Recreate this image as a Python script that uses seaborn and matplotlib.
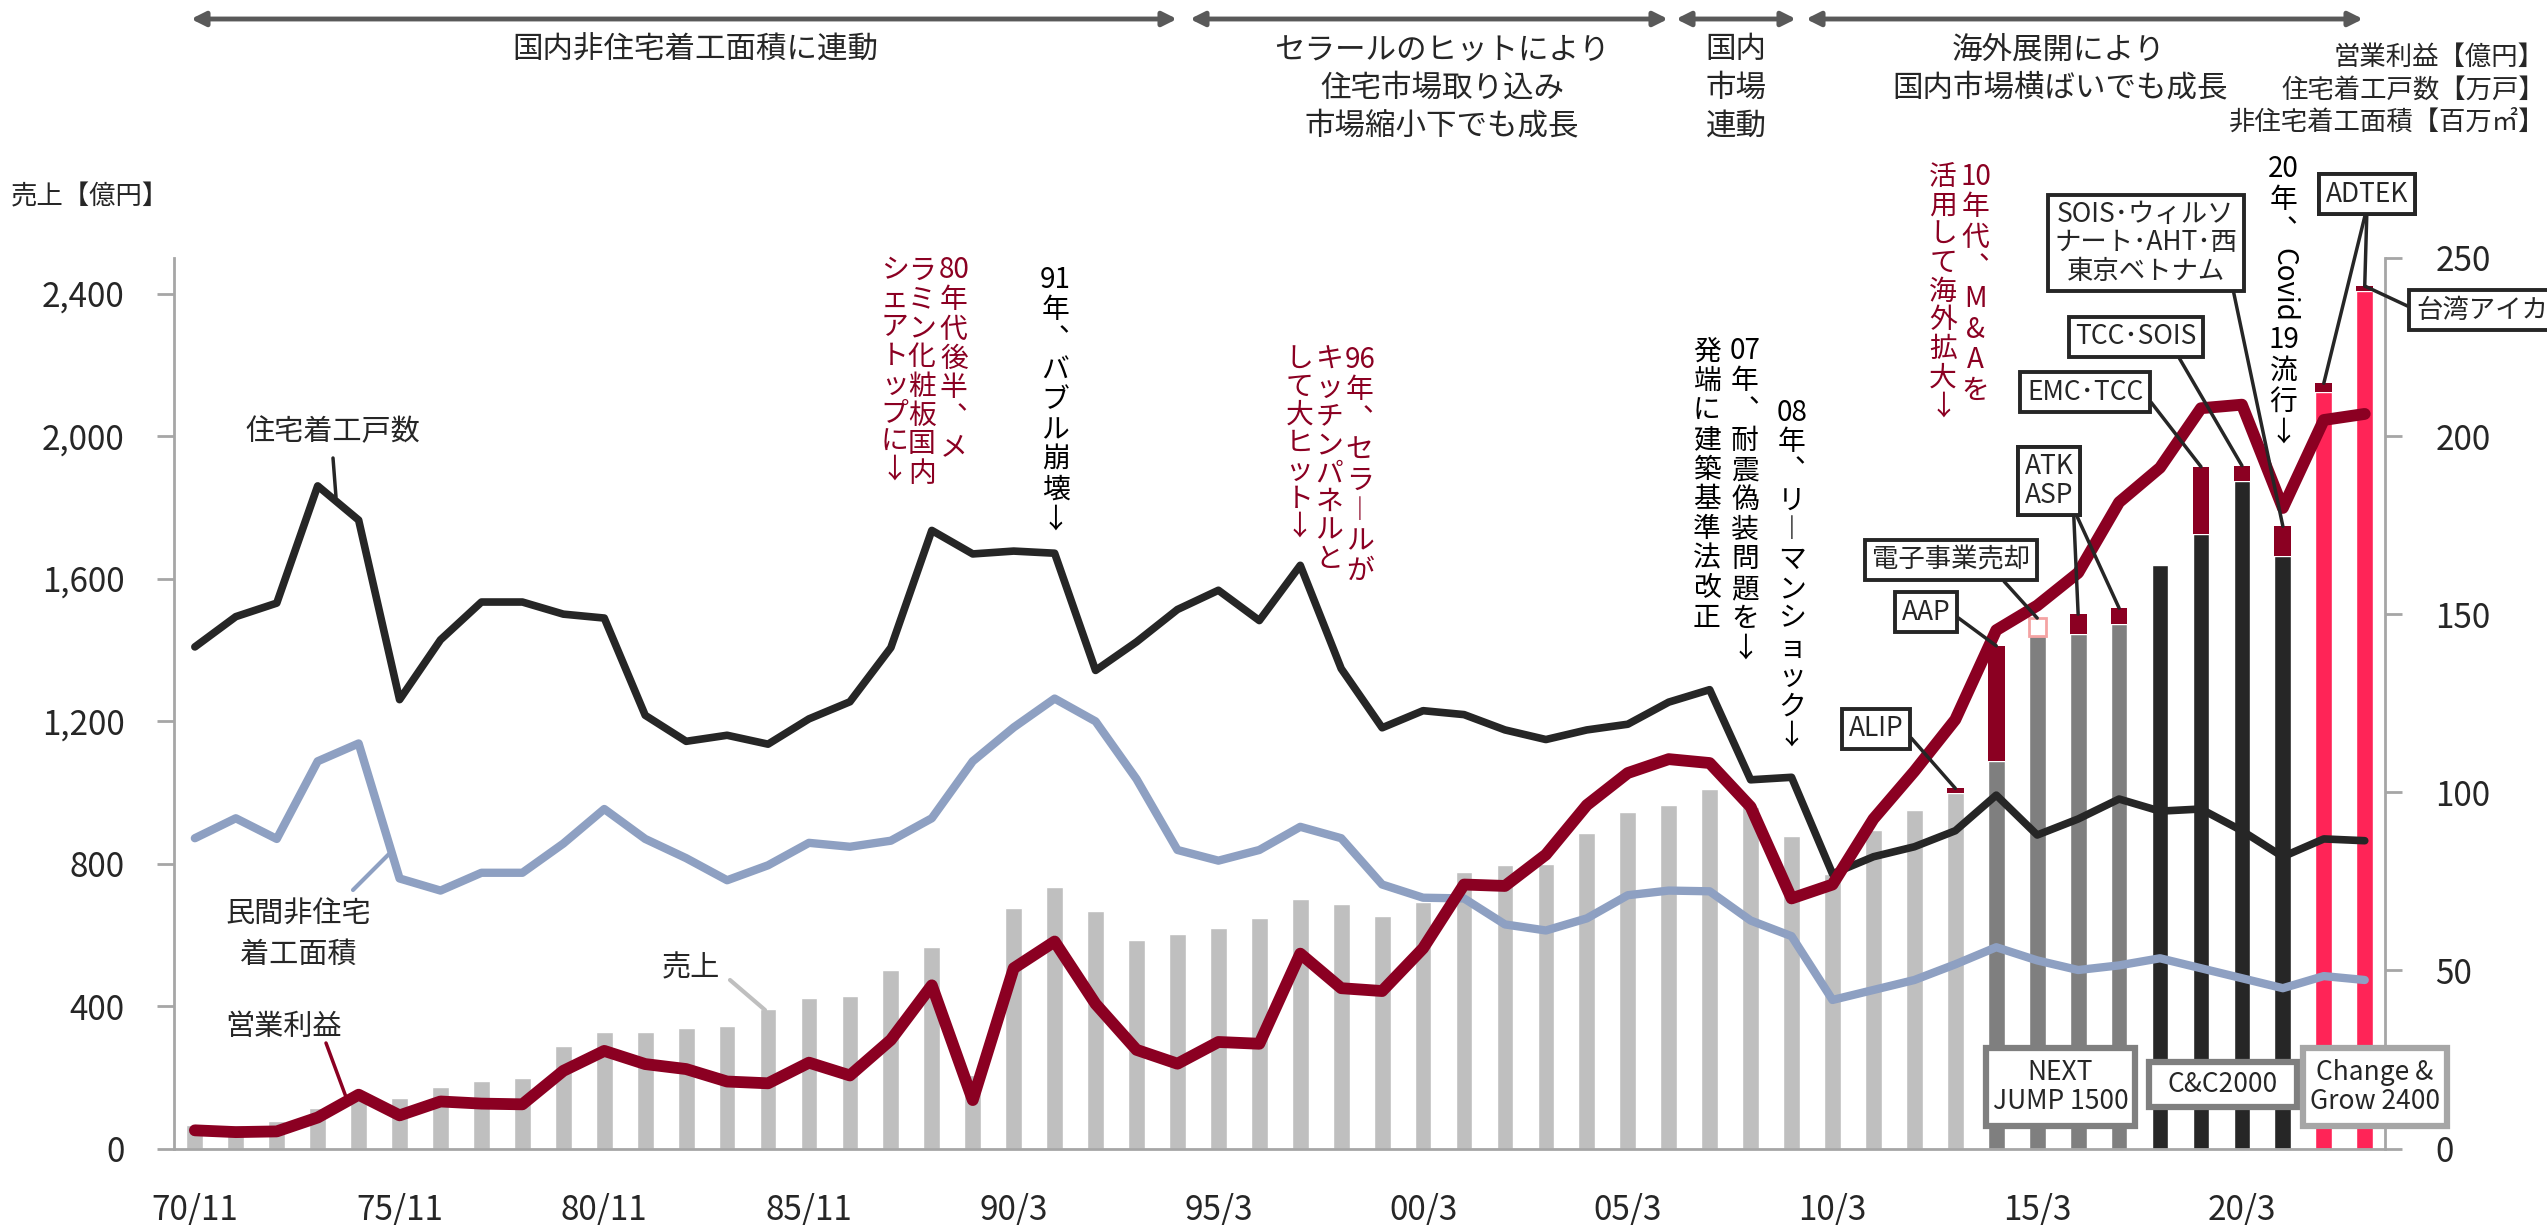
import pandas as pd
import seaborn as sns
import matplotlib.pyplot as plt
from matplotlib.lines import Line2D
from matplotlib.patches import Rectangle
from matplotlib.ticker import FuncFormatter

W, H = 2547, 1225

# x axis: one category per fiscal period, labelled every 5th
tick_labels = ["70/11", "75/11", "80/11", "85/11", "90/3", "95/3",
               "00/3", "05/3", "10/3", "15/3", "20/3"]

# 売上 (億円), base part of each bar
sales = [67, 65, 78, 115, 145, 141, 173, 190, 199, 289,
         328, 328, 339, 345, 391, 422, 429, 500, 567, 206,
         675, 733, 668, 584, 603, 620, 648, 699, 685, 654,
         693, 775, 796, 798, 887, 944, 965, 1008, 959, 877,
         770, 894, 951, 998, 1087, 1439, 1445, 1473, 1637, 1725,
         1874, 1664, 2124, 2408]
# M&A contribution stacked on top (dark red), by period index
acquired = {43: 13, 44: 324, 46: 55, 47: 44, 49: 189, 50: 43, 51: 83, 52: 24, 53: 13}
# divested business (outlined box)
sold = {45: 50}
# mid-term plan of each bar
phase = ["past"] * 44 + ["NEXT JUMP 1500"] * 4 + ["C&C2000"] * 4 + ["Change & Grow 2400"] * 2

# 営業利益 (億円)
op = [5.1, 4.6, 4.8, 8.7, 15.1, 9.3, 13.2, 12.6, 12.4, 21.8,
      27.4, 23.7, 22.3, 18.8, 18.3, 24.1, 20.5, 30.5, 45.8, 13.6,
      50.6, 58.1, 40.6, 27.7, 23.8, 29.9, 29.4, 54.7, 45.0, 44.2,
      56.2, 74.1, 73.7, 82.5, 96.4, 105.4, 109.3, 108.2, 95.9, 70.2,
      74.1, 92.5, 105.9, 120.4, 145.5, 152.4, 161.6, 181.4, 191.1, 207.8,
      208.8, 179.8, 204.5, 206.2]
# 住宅着工戸数 (万戸)
housing = [140.8, 149.3, 153.1, 186.0, 176.4, 126.0, 142.8, 153.4, 153.4, 150.0,
           148.9, 121.6, 114.3, 116.0, 113.5, 120.6, 125.4, 140.6, 173.5, 166.9,
           167.7, 167.1, 134.2, 142.2, 151.3, 156.7, 148.2, 163.7, 134.7, 118.1,
           122.9, 121.8, 117.5, 114.8, 117.5, 119.1, 125.3, 128.8, 103.5, 104.2,
           77.1, 81.9, 84.7, 89.2, 99.2, 88.0, 92.5, 98.1, 94.7, 95.3,
           89.2, 81.9, 86.9, 86.4]
# 民間非住宅着工面積 (百万㎡)
nonres = [87.1, 92.7, 86.9, 108.7, 113.7, 75.8, 72.4, 77.4, 77.4, 85.6,
          95.3, 86.9, 81.5, 75.3, 79.5, 85.8, 84.7, 86.4, 92.7, 108.7,
          118.2, 126.3, 119.9, 103.7, 83.8, 80.8, 83.8, 90.3, 87.1, 74.1,
          70.4, 70.2, 62.9, 61.2, 64.6, 71.1, 72.4, 72.2, 64.0, 59.6,
          41.7, 44.5, 47.3, 51.7, 56.5, 52.8, 50.1, 51.4, 53.4, 50.6,
          47.8, 45.0, 48.4, 47.3]

DARK_RED = "#8B0022"
BLACK = "#262626"
BLUE = "#8EA0C2"
AXIS_GRAY = "#A6A6A6"
phase_colors = {"past": "#BFBFBF", "NEXT JUMP 1500": "#7F7F7F",
                "C&C2000": BLACK, "Change & Grow 2400": "#FF2457"}

sns.set_theme(style="white")
plt.rcParams['font.family'] = ['Noto Sans CJK JP', 'DejaVu Sans']

n = len(sales)
idx = list(range(n))
df = pd.DataFrame({"idx": idx, "sales": sales, "phase": phase})

fig = plt.figure(figsize=(W / 100, H / 100), dpi=100)
ax = fig.add_axes([174.4 / W, 1 - 1148.5 / H, 2210.8 / W, 890.6 / H])

sns.barplot(data=df, x="idx", y="sales", hue="phase", hue_order=list(phase_colors),
            palette=phase_colors, dodge=False, width=0.41, saturation=1,
            errorbar=None, legend=False, ax=ax)
cap_i = list(acquired)
ax.bar(cap_i, [acquired[i] for i in cap_i], bottom=[sales[i] for i in cap_i],
       width=0.41, color=DARK_RED, lw=0)
sold_i = list(sold)
ax.bar(sold_i, [sold[i] for i in sold_i], bottom=[sales[i] for i in sold_i],
       width=0.41, facecolor="white", edgecolor="#F4A3A3", lw=2)

ax.set_xlim(-0.5, n - 0.5)
ax.set_ylim(0, 2500)
ax.set_yticks(range(0, 2401, 400))
ax.yaxis.set_major_formatter(FuncFormatter(lambda v, p: f"{int(v):,}"))
ax.set_xticks(range(0, n, 5))
ax.set_xticklabels(tick_labels)
ax.set_xlabel("")
ax.set_ylabel("")
ax.tick_params(axis="y", left=True, length=12, width=2, color=AXIS_GRAY,
               labelsize=24, pad=24)
ax.tick_params(axis="x", bottom=False, labelsize=24, pad=26)
for s in ["top", "right"]:
    ax.spines[s].set_visible(False)
for s in ["left", "bottom"]:
    ax.spines[s].set_color(AXIS_GRAY)
    ax.spines[s].set_linewidth(2)

ax2 = ax.twinx()
sns.lineplot(x=idx, y=nonres, ax=ax2, color=BLUE, linewidth=6)
sns.lineplot(x=idx, y=housing, ax=ax2, color=BLACK, linewidth=5.5)
sns.lineplot(x=idx, y=op, ax=ax2, color=DARK_RED, linewidth=8.5)
ax2.set_xlim(-0.5, n - 0.5)
ax2.set_ylim(0, 250)
ax2.set_yticks(range(0, 251, 50))
ax2.set_ylabel("")
ax2.tick_params(axis="y", right=True, length=12, width=2, color=AXIS_GRAY,
                labelsize=24, pad=24)
for s in ["top", "left", "bottom"]:
    ax2.spines[s].set_visible(False)
ax2.spines["right"].set_color(AXIS_GRAY)
ax2.spines["right"].set_linewidth(2)


def ftext(x, y, s, **kw):
    kw.setdefault("ha", "center")
    kw.setdefault("va", "center")
    return fig.text(x / W, 1 - y / H, s, **kw)


def leader(p1, p2, color, lw):
    fig.add_artist(Line2D([p1[0] / W, p2[0] / W], [1 - p1[1] / H, 1 - p2[1] / H],
                          transform=fig.transFigure, color=color, lw=lw))


def vcol(x, y0, tokens, pitch, color, size=20):
    # vertical writing: one cell per token
    y = y0
    for t in tokens:
        s, cells, rot = t if isinstance(t, tuple) else (t, 1, 0)
        ftext(x, y + (cells - 1) * pitch / 2, s, fontsize=size, color=color, rotation=rot)
        y += cells * pitch


def hbar_arrow(x1, x2, y=19):
    ax2.annotate("", xy=(x2, H - y), xytext=(x1, H - y),
                 xycoords="figure pixels", textcoords="figure pixels",
                 arrowprops=dict(arrowstyle="<|-|>,head_length=0.7,head_width=0.35",
                                 color="#595959", lw=3.5, shrinkA=0, shrinkB=0))


# period arrows and headings
hbar_arrow(191, 1177)
hbar_arrow(1190, 1668)
hbar_arrow(1676, 1796)
hbar_arrow(1806, 2363)
ftext(695, 50, "国内非住宅着工面積に連動", fontsize=22)
for y, s in [(50, "セラールのヒットにより"), (88, "住宅市場取り込み"), (126, "市場縮小下でも成長")]:
    ftext(1442, y, s, fontsize=22)
for y, s in [(50, "国内"), (88, "市場"), (126, "連動")]:
    ftext(1736, y, s, fontsize=22)
ftext(2059, 50, "海外展開により", fontsize=22)
ftext(2060, 88, "国内市場横ばいでも成長", fontsize=22)
for y, s in [(57, "営業利益【億円】"), (90, "住宅着工戸数【万戸】"), (122, "非住宅着工面積【百万㎡】")]:
    ftext(2545, y, s, fontsize=19, ha="right")
ftext(90, 197, "売上【億円】", fontsize=19)

# series labels
ftext(333, 432, "住宅着工戸数", fontsize=21)
leader((333, 458), (336, 497), BLACK, 2.5)
ftext(298, 915, "民間非住宅", fontsize=21)
ftext(298, 955, "着工面積", fontsize=21)
leader((353, 890), (391, 852), BLUE, 3)
ftext(691, 968, "売上", fontsize=21)
leader((730, 980), (765, 1010), "#BFBFBF", 3)
ftext(284, 1027, "営業利益", fontsize=21)
leader((326, 1043), (346, 1097), DARK_RED, 2.5)

# vertical event notes ("︑" / "︱" are the vertical forms of "、" / "ー")
vcol(953.8, 270.5, ["80", "年", "代", "後", "半", "︑", "メ"], 29.5, DARK_RED)
vcol(921.7, 270.5, ["ラ", "ミ", "ン", "化", "粧", "板", "国", "内"], 29, DARK_RED)
vcol(894.7, 270.5, ["シ", "ェ", "ア", "ト", "ッ", "プ", "に", "↓"], 28.5, DARK_RED)
vcol(1055.5, 280, ["91", "年", "︑", "バ", "ブ", "ル", "崩", "壊", "↓"], 30, "black")
vcol(1359.7, 359.7, ["96", "年", "︑", "セ", "ラ", "︱", "ル", "が"], 30.2, DARK_RED)
vcol(1329.3, 359.7, ["キ", "ッ", "チ", "ン", "パ", "ネ", "ル", "と"], 28.5, DARK_RED)
vcol(1299.4, 358.6, ["し", "て", "大", "ヒ", "ッ", "ト", "↓"], 28, DARK_RED)
vcol(1745, 351.4, ["07", "年", "︑", "耐", "震", "偽", "装", "問", "題", "を", "↓"], 29.7, "black")
vcol(1706.7, 351.4, ["発", "端", "に", "建", "築", "基", "準", "法", "改", "正"], 29.6, "black")
vcol(1791.7, 412.6, ["08", "年", "︑", "リ", "︱", "マ", "ン", "シ", "ョ", "ッ", "ク", "↓"], 29.4, "black")
vcol(1975.5, 176.8, ["10", "年", "代", "︑", "M", "&", "A", "を"], 30.6, DARK_RED)
vcol(1943, 176.8, ["活", "用", "し", "て", "海", "外", "拡", "大", "↓"], 28.7, DARK_RED)
vcol(2283.5, 169, ["20", "年", "︑", ("Covid", 2.5, -90), "19", "流", "行", "↓"], 31, "black")

# acquisition call-outs
box = dict(boxstyle="square,pad=0.25", fc="white", ec=BLACK, lw=2.8)


def callout(text, i, pos, relpos, size=19, **kw):
    top = sales[i] + acquired.get(i, 0) + sold.get(i, 0)
    kw.setdefault("ha", "center")
    ax2.annotate(text, xy=(i, top), xycoords=ax.transData,
                 xytext=(pos[0], H - pos[1]), textcoords="figure pixels",
                 va="center", fontsize=size, bbox=box, linespacing=1.05,
                 arrowprops=dict(arrowstyle="-", color=BLACK, lw=2.5,
                                 shrinkA=0, shrinkB=0, relpos=relpos), **kw)


callout("ALIP", 43, (1876, 729), (1, 0.5))
callout("AAP", 44, (1926, 612), (1, 0.5))
callout("電子事業売却", 45, (1951, 560), (0.79, 0))
callout("ATK\nASP", 46, (2049, 481), (1, 0))
callout("ATK\nASP", 47, (2049, 481), (1, 0))
callout("EMC･TCC", 49, (2085, 392), (1, 0.5))
callout("TCC･SOIS", 50, (2136, 337), (0.82, 0))
callout("SOIS･ウィルソ\nナート･AHT･西\n東京ベトナム", 51, (2146, 243), (0.97, 0))
callout("ADTEK", 52, (2367, 194), (0.5, 0))
callout("ADTEK", 53, (2367, 194), (0.5, 0))
callout("台湾アイカ", 53, (2416, 310), (0, 0.5), ha="left")

# mid-term plan boxes
for (x0, y0, x1, y1), ec, label in [((1986, 1048, 2135, 1126), "#7F7F7F", "NEXT\nJUMP 1500"),
                                    ((2149, 1062, 2297, 1107), "#7F7F7F", "C&C2000"),
                                    ((2303, 1048, 2447, 1126), "#A6A6A6", "Change &\nGrow 2400")]:
    fig.add_artist(Rectangle((x0 / W, 1 - y1 / H), (x1 - x0) / W, (y1 - y0) / H,
                             transform=fig.transFigure, fc="white", ec=ec, lw=4.5))
    ftext((x0 + x1) / 2, (y0 + y1) / 2, label, fontsize=19, linespacing=1.1)

fig.savefig("out.png", dpi=100)
